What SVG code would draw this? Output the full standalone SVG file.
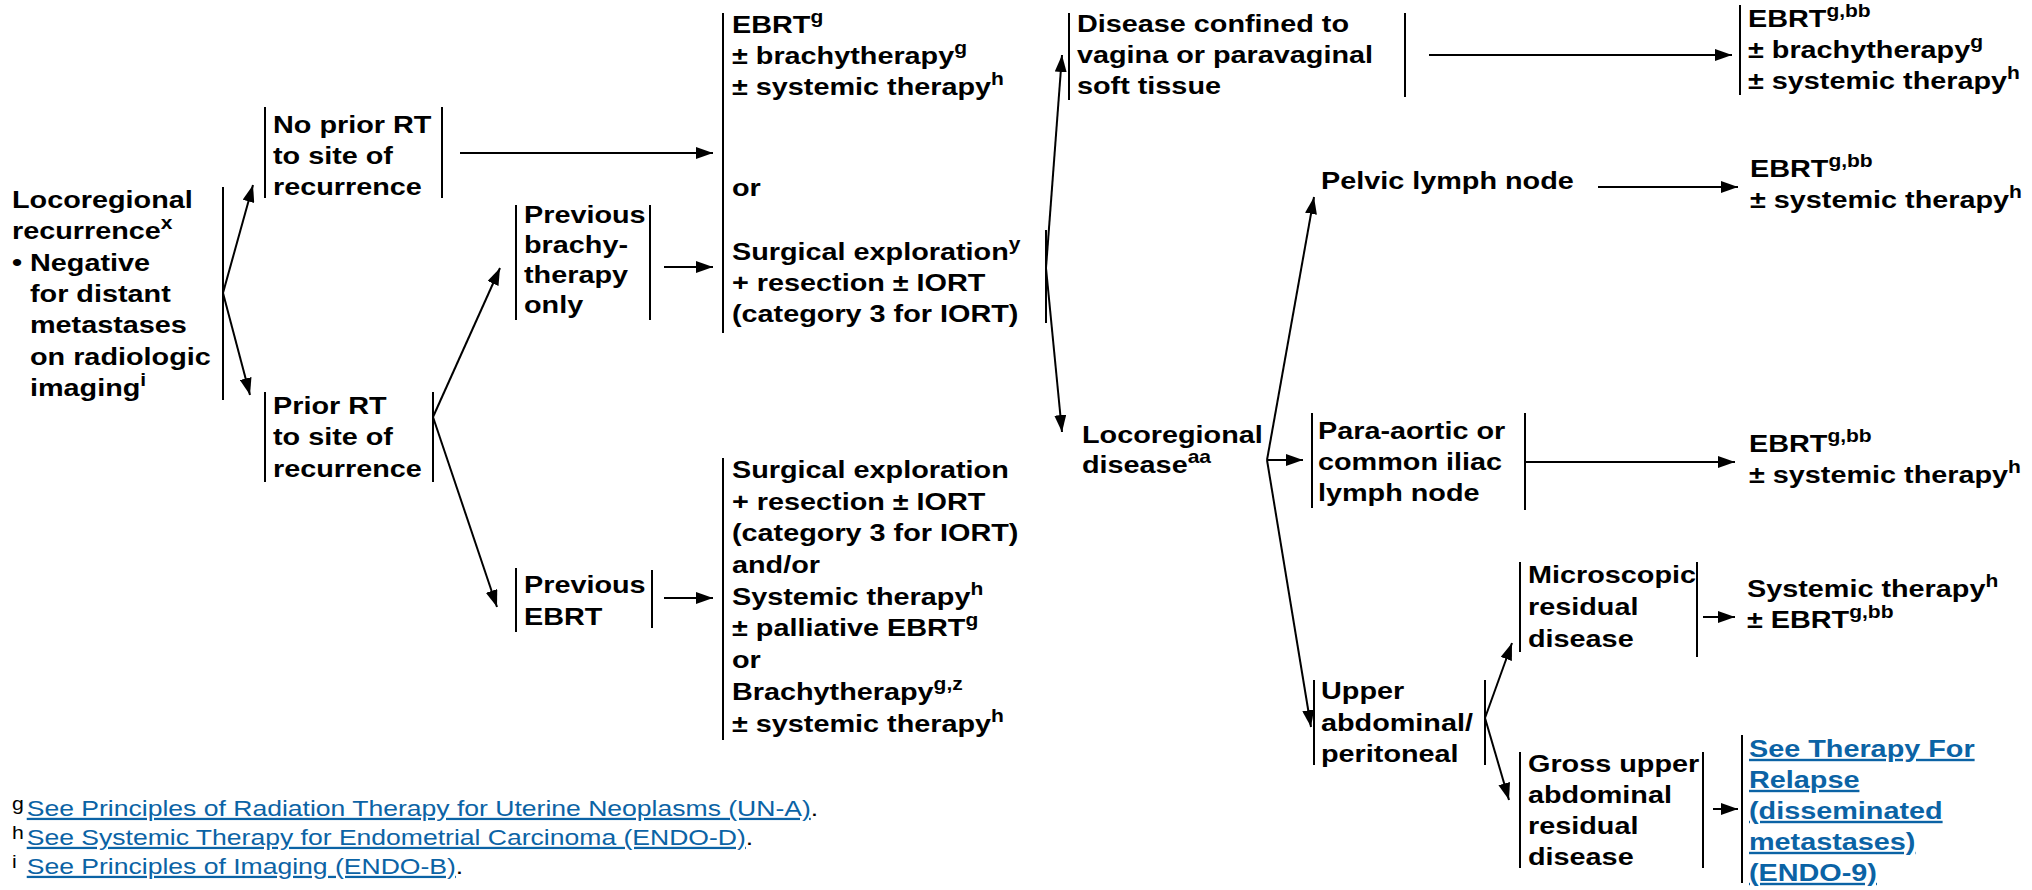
<svg xmlns="http://www.w3.org/2000/svg" width="2032" height="890" viewBox="0 0 2032 890">
<style>
.t{font-family:"Liberation Sans",Arial,Helvetica,sans-serif;font-weight:bold;font-size:24px;fill:#000}
.s{font-size:17.5px}
.fn{font-family:"Liberation Sans",Arial,Helvetica,sans-serif;font-weight:normal;font-size:22.5px;fill:#000}
.fs{font-size:18px}
.lk{fill:#0b63a5;text-decoration:underline}
.b{stroke:#000;stroke-width:2;fill:none}
.c{stroke:#000;stroke-width:2;fill:none;marker-end:url(#ah)}
</style>
<defs>
<marker id="ah" markerUnits="userSpaceOnUse" markerWidth="17" markerHeight="12" refX="17" refY="6" orient="auto">
<path d="M0,0 L17,6 L0,12 Z" fill="#000"/>
</marker>
</defs>
<rect width="2032" height="890" fill="#fff"/>

<g id="n-loco">
<line class="b" x1="223" y1="187" x2="223" y2="400"/>
<g transform="translate(12,0) scale(1.2,1)">
<text class="t"><tspan x="0" y="208">Locoregional</tspan><tspan x="0" y="239">recurrence<tspan class="s" dy="-10">x</tspan></tspan><tspan x="0" y="271">•</tspan><tspan x="15" y="271">Negative</tspan><tspan x="15" y="302">for distant</tspan><tspan x="15" y="333">metastases</tspan><tspan x="15" y="365">on radiologic</tspan><tspan x="15" y="396">imaging<tspan class="s" dy="-10">i</tspan></tspan></text>
</g>
</g>

<g id="n-noprior">
<line class="b" x1="265" y1="107" x2="265" y2="198"/>
<line class="b" x1="442" y1="107" x2="442" y2="198"/>
<g transform="translate(273,0) scale(1.2,1)">
<text class="t"><tspan x="0" y="133">No prior RT</tspan><tspan x="0" y="164">to site of</tspan><tspan x="0" y="195">recurrence</tspan></text>
</g>
</g>

<g id="n-prior">
<line class="b" x1="265" y1="392" x2="265" y2="482"/>
<line class="b" x1="433" y1="392" x2="433" y2="482"/>
<g transform="translate(273,0) scale(1.2,1)">
<text class="t"><tspan x="0" y="414">Prior RT</tspan><tspan x="0" y="445">to site of</tspan><tspan x="0" y="477">recurrence</tspan></text>
</g>
</g>

<g id="n-prevbrachy">
<line class="b" x1="516" y1="205" x2="516" y2="320"/>
<line class="b" x1="650" y1="205" x2="650" y2="320"/>
<g transform="translate(524,0) scale(1.2,1)">
<text class="t"><tspan x="0" y="223">Previous</tspan><tspan x="0" y="253">brachy-</tspan><tspan x="0" y="283">therapy</tspan><tspan x="0" y="313">only</tspan></text>
</g>
</g>

<g id="n-prevebrt">
<line class="b" x1="516" y1="568" x2="516" y2="632"/>
<line class="b" x1="652" y1="570" x2="652" y2="628"/>
<g transform="translate(524,0) scale(1.2,1)">
<text class="t"><tspan x="0" y="593">Previous</tspan><tspan x="0" y="625">EBRT</tspan></text>
</g>
</g>

<g id="n-tx1">
<line class="b" x1="723" y1="13" x2="723" y2="333"/>
<line class="b" x1="1046" y1="230" x2="1046" y2="323"/>
<g transform="translate(732,0) scale(1.2,1)">
<text class="t"><tspan x="0" y="33">EBRT<tspan class="s" dy="-10">g</tspan></tspan><tspan x="0" y="64">± brachytherapy<tspan class="s" dy="-10">g</tspan></tspan><tspan x="0" y="95">± systemic therapy<tspan class="s" dy="-10">h</tspan></tspan><tspan x="0" y="196">or</tspan><tspan x="0" y="260">Surgical exploration<tspan class="s" dy="-10">y</tspan></tspan><tspan x="0" y="291">+ resection ± IORT</tspan><tspan x="0" y="322">(category 3 for IORT)</tspan></text>
</g>
</g>

<g id="n-tx2">
<line class="b" x1="723" y1="458" x2="723" y2="740"/>
<g transform="translate(732,0) scale(1.2,1)">
<text class="t"><tspan x="0" y="478">Surgical exploration</tspan><tspan x="0" y="510">+ resection ± IORT</tspan><tspan x="0" y="541">(category 3 for IORT)</tspan><tspan x="0" y="573">and/or</tspan><tspan x="0" y="605">Systemic therapy<tspan class="s" dy="-10">h</tspan></tspan><tspan x="0" y="636">± palliative EBRT<tspan class="s" dy="-10">g</tspan></tspan><tspan x="0" y="668">or</tspan><tspan x="0" y="700">Brachytherapy<tspan class="s" dy="-10">g,z</tspan></tspan><tspan x="0" y="732">± systemic therapy<tspan class="s" dy="-10">h</tspan></tspan></text>
</g>
</g>

<g id="n-vagina">
<line class="b" x1="1069" y1="13" x2="1069" y2="100"/>
<line class="b" x1="1405" y1="13" x2="1405" y2="97"/>
<g transform="translate(1077,0) scale(1.2,1)">
<text class="t"><tspan x="0" y="32">Disease confined to</tspan><tspan x="0" y="63">vagina or paravaginal</tspan><tspan x="0" y="94">soft tissue</tspan></text>
</g>
</g>

<g id="n-tx3">
<line class="b" x1="1740" y1="5" x2="1740" y2="95"/>
<g transform="translate(1748,0) scale(1.2,1)">
<text class="t"><tspan x="0" y="27">EBRT<tspan class="s" dy="-10">g,bb</tspan></tspan><tspan x="0" y="58">± brachytherapy<tspan class="s" dy="-10">g</tspan></tspan><tspan x="0" y="89">± systemic therapy<tspan class="s" dy="-10">h</tspan></tspan></text>
</g>
</g>

<g id="n-locodis">
<g transform="translate(1082,0) scale(1.2,1)">
<text class="t"><tspan x="0" y="443">Locoregional</tspan><tspan x="0" y="473">disease<tspan class="s" dy="-10">aa</tspan></tspan></text>
</g>
</g>

<g id="n-pelvic">
<g transform="translate(1321,0) scale(1.2,1)">
<text class="t"><tspan x="0" y="189">Pelvic lymph node</tspan></text>
</g>
</g>

<g id="n-tx4">
<g transform="translate(1750,0) scale(1.2,1)">
<text class="t"><tspan x="0" y="177">EBRT<tspan class="s" dy="-10">g,bb</tspan></tspan><tspan x="0" y="208">± systemic therapy<tspan class="s" dy="-10">h</tspan></tspan></text>
</g>
</g>

<g id="n-paraaortic">
<line class="b" x1="1312" y1="413" x2="1312" y2="508"/>
<line class="b" x1="1525" y1="413" x2="1525" y2="510"/>
<g transform="translate(1318,0) scale(1.2,1)">
<text class="t"><tspan x="0" y="439">Para-aortic or</tspan><tspan x="0" y="470">common iliac</tspan><tspan x="0" y="501">lymph node</tspan></text>
</g>
</g>

<g id="n-tx5">
<g transform="translate(1749,0) scale(1.2,1)">
<text class="t"><tspan x="0" y="452">EBRT<tspan class="s" dy="-10">g,bb</tspan></tspan><tspan x="0" y="483">± systemic therapy<tspan class="s" dy="-10">h</tspan></tspan></text>
</g>
</g>

<g id="n-upper">
<line class="b" x1="1314" y1="680" x2="1314" y2="765"/>
<line class="b" x1="1485" y1="680" x2="1485" y2="765"/>
<g transform="translate(1321,0) scale(1.2,1)">
<text class="t"><tspan x="0" y="699">Upper</tspan><tspan x="0" y="731">abdominal/</tspan><tspan x="0" y="762">peritoneal</tspan></text>
</g>
</g>

<g id="n-micro">
<line class="b" x1="1520" y1="562" x2="1520" y2="652"/>
<line class="b" x1="1697" y1="562" x2="1697" y2="657"/>
<g transform="translate(1528,0) scale(1.2,1)">
<text class="t"><tspan x="0" y="583">Microscopic</tspan><tspan x="0" y="615">residual</tspan><tspan x="0" y="647">disease</tspan></text>
</g>
</g>

<g id="n-tx6">
<g transform="translate(1747,0) scale(1.2,1)">
<text class="t"><tspan x="0" y="597">Systemic therapy<tspan class="s" dy="-10">h</tspan></tspan><tspan x="0" y="628">± EBRT<tspan class="s" dy="-10">g,bb</tspan></tspan></text>
</g>
</g>

<g id="n-gross">
<line class="b" x1="1520" y1="752" x2="1520" y2="868"/>
<line class="b" x1="1703" y1="752" x2="1703" y2="868"/>
<g transform="translate(1528,0) scale(1.2,1)">
<text class="t"><tspan x="0" y="772">Gross upper</tspan><tspan x="0" y="803">abdominal</tspan><tspan x="0" y="834">residual</tspan><tspan x="0" y="865">disease</tspan></text>
</g>
</g>

<g id="n-relapse">
<line class="b" x1="1742" y1="735" x2="1742" y2="883"/>
<g transform="translate(1749,0) scale(1.2,1)">
<text class="t lk"><tspan x="0" y="757">See Therapy For</tspan><tspan x="0" y="788">Relapse</tspan><tspan x="0" y="819">(disseminated</tspan><tspan x="0" y="850">metastases)</tspan><tspan x="0" y="881">(ENDO-9)</tspan></text>
</g>
</g>

<g id="connectors">
<line class="c" x1="223" y1="293" x2="253" y2="185"/>
<line class="c" x1="223" y1="293" x2="250" y2="395"/>
<line class="c" x1="460" y1="153" x2="713" y2="153"/>
<line class="c" x1="433" y1="417" x2="500" y2="268"/>
<line class="c" x1="433" y1="417" x2="497" y2="607"/>
<line class="c" x1="664" y1="267" x2="713" y2="267"/>
<line class="c" x1="664" y1="598" x2="713" y2="598"/>
<line class="c" x1="1046" y1="268" x2="1062" y2="55"/>
<line class="c" x1="1046" y1="268" x2="1062" y2="432"/>
<line class="c" x1="1429" y1="55" x2="1732" y2="55"/>
<line class="c" x1="1267" y1="460" x2="1314" y2="197"/>
<line class="c" x1="1267" y1="460" x2="1303" y2="460"/>
<line class="c" x1="1267" y1="460" x2="1311" y2="727"/>
<line class="c" x1="1598" y1="187" x2="1738" y2="187"/>
<line class="c" x1="1525" y1="462" x2="1735" y2="462"/>
<line class="c" x1="1485" y1="718" x2="1512" y2="643"/>
<line class="c" x1="1485" y1="718" x2="1509" y2="800"/>
<line class="c" x1="1703" y1="617" x2="1735" y2="617"/>
<line class="c" x1="1713" y1="809" x2="1738" y2="809"/>
</g>

<g id="footnotes">
<g transform="translate(12,0) scale(1.18,1)">
<text class="fn"><tspan class="fs" x="0" y="810">g</tspan><tspan class="lk" x="12.5" y="816">See Principles of Radiation Therapy for Uterine Neoplasms (UN-A)</tspan><tspan>.</tspan></text>
<text class="fn"><tspan class="fs" x="0" y="839">h</tspan><tspan class="lk" x="12.5" y="845">See Systemic Therapy for Endometrial Carcinoma (ENDO-D)</tspan><tspan>.</tspan></text>
<text class="fn"><tspan class="fs" x="0" y="868">i</tspan><tspan class="lk" x="12.5" y="874">See Principles of Imaging (ENDO-B)</tspan><tspan>.</tspan></text>
</g>
</g>
</svg>
